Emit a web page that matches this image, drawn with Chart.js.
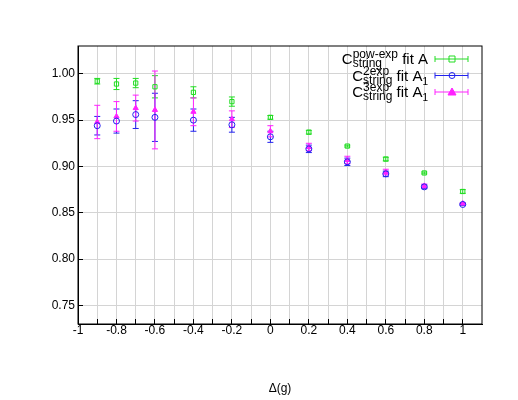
<!DOCTYPE html><html><head><script src="https://cdn.jsdelivr.net/npm/chart.js@4"></script>
<style>body{margin:0;background:#fff}</style></head><body>
<div style="width:518px;height:400px"><canvas id="c"></canvas></div>
<script>
const xs=[-0.9,-0.8,-0.7,-0.6,-0.4,-0.2,0,0.2,0.4,0.6,0.8,1];
const powExp=[0.992,0.989,0.990,0.986,0.980,0.970,0.953,0.937,0.922,0.908,0.893,0.873];
const powExpErr=[0.003,0.006,0.005,0.012,0.006,0.005,0.002,0.002,0.001,0.002,0.001,0.002];
const twoExp=[0.944,0.949,0.956,0.953,0.950,0.945,0.932,0.919,0.905,0.892,0.878,0.859];
const twoExpErr=[0.010,0.013,0.015,0.026,0.012,0.008,0.006,0.004,0.004,0.003,0.002,0.001];
const threeExp=[0.948,0.954,0.963,0.961,0.959,0.951,0.938,0.921,0.907,0.894,0.879,0.860];
const threeExpErr=[0.018,0.016,0.014,0.042,0.015,0.009,0.006,0.004,0.004,0.003,0.002,0.001];
const xTicks=[-1,-0.9,-0.8,-0.7,-0.6,-0.5,-0.4,-0.3,-0.2,-0.1,0,0.1,0.2,0.3,0.4,0.5,0.6,0.7,0.8,0.9,1];
const yTicks=[0.75,0.8,0.85,0.9,0.95,1.0];
const colors=['#22dd22','#2222ee','#ff22ff'];
const mk=(v,e,c,s)=>({data:xs.map((x,i)=>({x,y:v[i],e:e[i]})),borderColor:c,backgroundColor:'rgba(0,0,0,0)',pointStyle:s,pointRadius:3,borderWidth:1,showLine:false});
const ds=[mk(powExp,powExpErr,colors[0],'rect'),mk(twoExp,twoExpErr,colors[1],'circle'),mk(threeExp,threeExpErr,colors[2],'triangle')];
ds[2].backgroundColor=colors[2];
const errPlug={id:'err',beforeDatasetsDraw(ch){const c=ch.ctx,xs_=ch.scales.x,ys=ch.scales.y;c.save();c.lineWidth=1;
ch.data.datasets.forEach((d,k)=>{c.strokeStyle=d.borderColor;d.data.forEach(p=>{const X=xs_.getPixelForValue(p.x),a=ys.getPixelForValue(p.y-p.e),b=ys.getPixelForValue(p.y+p.e);
c.beginPath();c.moveTo(X,a);c.lineTo(X,b);c.moveTo(X-3,a);c.lineTo(X+3,a);c.moveTo(X-3,b);c.lineTo(X+3,b);c.stroke();});});c.restore();},
afterDraw(ch){const c=ch.ctx,a=ch.chartArea;c.save();c.strokeStyle='#000';c.lineWidth=1;c.strokeRect(a.left,a.top,a.right-a.left,a.bottom-a.top);
const ent=[['pow-exp','A',''],['2exp','A','1'],['3exp','A','1']];
ent.forEach((e,i)=>{const y=59+i*16.5;c.fillStyle='#000';c.textBaseline='alphabetic';
c.font='15px "Liberation Sans"';const w=c.measureText('C').width;const t=' fit '+e[1];const w3=c.measureText(t).width;
c.font='12px "Liberation Sans"';const w2=Math.max(c.measureText(e[0]).width,c.measureText('string').width);
c.font='10px "Liberation Sans"';const w4=e[2]?c.measureText(e[2]).width:0;
let x=428-(w+w2+w3+w4);
c.font='15px "Liberation Sans"';c.fillText('C',x,y+5);
c.font='12px "Liberation Sans"';c.fillText(e[0],x+w,y-1);c.fillText('string',x+w,y+8);
c.font='15px "Liberation Sans"';c.fillText(t,x+w+w2,y+5);
if(e[2]){c.font='10px "Liberation Sans"';c.fillText(e[2],x+w+w2+w3,y+9);}
const col=colors[i];c.strokeStyle=col;c.beginPath();c.moveTo(435,y);c.lineTo(468,y);c.moveTo(435,y-3);c.lineTo(435,y+3);c.moveTo(468,y-3);c.lineTo(468,y+3);c.stroke();
c.beginPath();if(i==0)c.rect(449,y-3,6,6);else if(i==1)c.arc(452,y,3,0,7);else{c.fillStyle=col;c.moveTo(452,y-4);c.lineTo(456,y+3);c.lineTo(448,y+3);c.closePath();c.fill();}c.stroke();});
c.restore();}};
const isMajor=v=>Math.abs(v*10-2*Math.round(v*5))<0.01;
new Chart(document.getElementById('c'),{type:'scatter',data:{datasets:ds},plugins:[errPlug],
options:{responsive:true,maintainAspectRatio:false,animation:false,layout:{padding:{left:0,right:36,top:46,bottom:0}},
plugins:{legend:{display:false},tooltip:{enabled:false}},
scales:{x:{min:-1,max:1.1,afterFit:s=>{s.height=76},afterBuildTicks:s=>{s.ticks=xTicks.map(v=>({value:v}))},
ticks:{color:'#000',font:{family:'Liberation Sans',size:12},autoSkip:false,callback:v=>isMajor(v)?String(Math.round(v*10)/10):'',maxRotation:0,padding:4},
grid:{color:'#d4d4d4',borderDash:[1,2],tickLength:-5,tickColor:'#000'},border:{color:'#000'},
title:{display:true,text:'Δ(g)',color:'#000',font:{family:'Liberation Sans',size:12},padding:{top:4}}},
y:{min:0.73,max:1.03,afterFit:s=>{s.width=78},afterBuildTicks:s=>{s.ticks=yTicks.map(v=>({value:v}))},
ticks:{color:'#000',font:{family:'Liberation Sans',size:12},callback:v=>v.toFixed(2),padding:8},
grid:{color:'#d4d4d4',borderDash:[1,2],tickLength:-5,tickColor:'#000'},border:{color:'#000'}}}}});
</script></body></html>
